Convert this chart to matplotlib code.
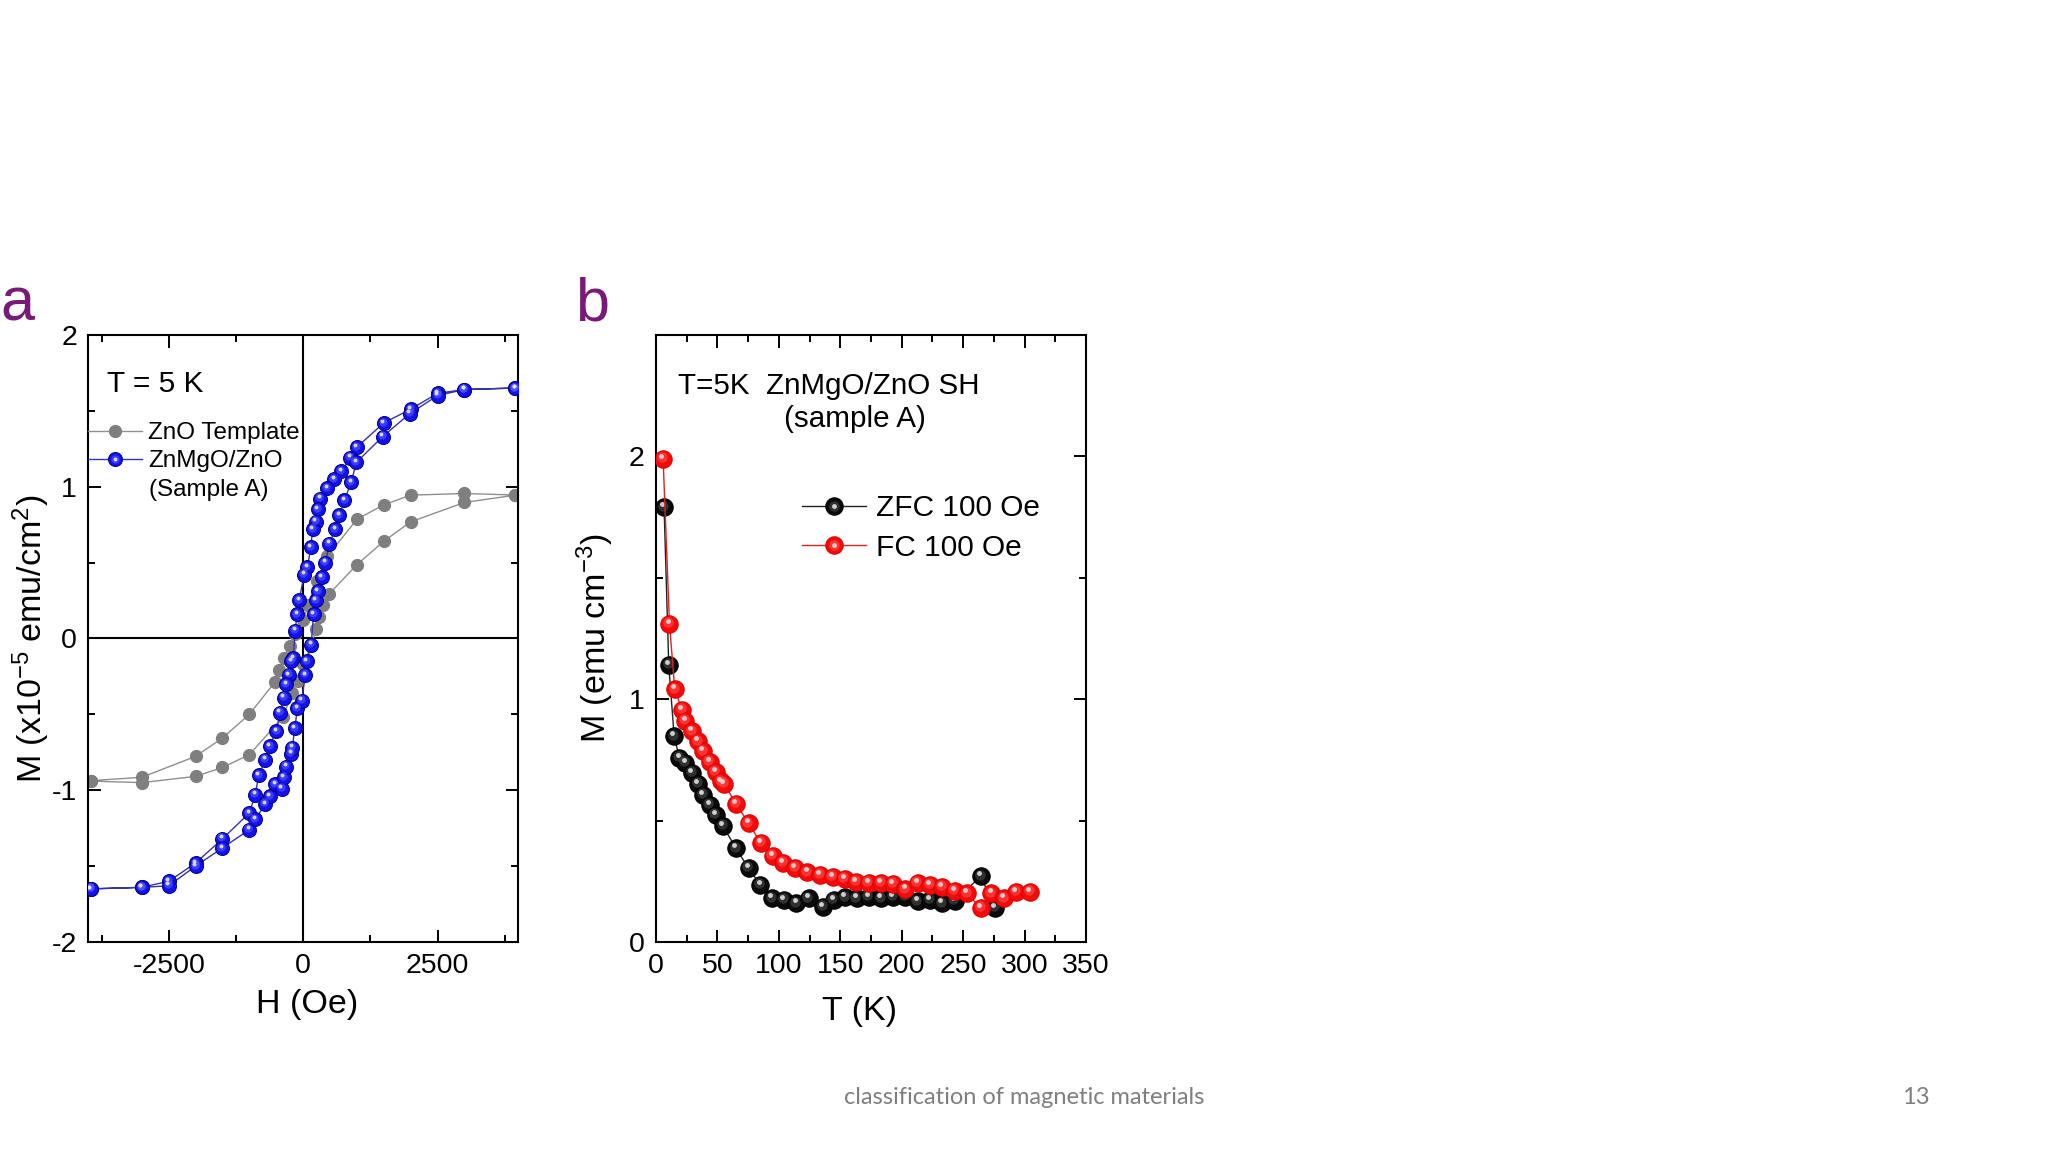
import matplotlib
matplotlib.use('Agg')
import matplotlib.pyplot as plt
import matplotlib.transforms as mtransforms
from matplotlib.ticker import MultipleLocator
from matplotlib.legend_handler import HandlerTuple

plt.rcParams['font.family'] = ['Liberation Sans', 'DejaVu Sans']
plt.rcParams['mathtext.default'] = 'regular'
plt.rcParams['axes.unicode_minus'] = False

# ---- panel a: M-H loops at 5 K ----
# ZnO template (grey)
gray_h_down = [3950, 3000, 2000, 1500, 1000, 450, 250, 100, 0, -150, -250, -350, -440, -530,
               -1000, -1500, -2000, -3000, -3950]
gray_m_down = [0.945, 0.955, 0.944, 0.88, 0.785, 0.54, 0.38, 0.22, 0.12, 0.03, -0.05, -0.13,
               -0.21, -0.29, -0.50, -0.656, -0.777, -0.915, -0.937]
gray_h_up = [-3950, -3000, -2000, -1500, -1000, -380, -200, -100, 0, 150, 240, 300, 370, 490,
             1000, 1500, 2000, 3000, 3950]
gray_m_up = [-0.94, -0.95, -0.909, -0.85, -0.766, -0.52, -0.36, -0.28, -0.17, -0.05, 0.064, 0.141,
             0.218, 0.295, 0.486, 0.64, 0.768, 0.896, 0.944]

# ZnMgO/ZnO sample A (blue)
blue_h_down = [3950, 3000, 2500, 2000, 1500, 1000, 880, 710, 580, 450, 320, 270, 240, 175, 145,
               80, 20, -75, -110, -150, -180, -220, -265, -310, -360, -430, -495, -625, -700,
               -825, -890, -1000, -1500, -2000, -2500, -3000, -3950]
blue_m_down = [1.65, 1.64, 1.615, 1.51, 1.42, 1.26, 1.19, 1.10, 1.05, 0.99, 0.92, 0.85, 0.77,
               0.72, 0.60, 0.47, 0.42, 0.25, 0.16, 0.05, -0.13, -0.15, -0.24, -0.30, -0.39,
               -0.49, -0.61, -0.71, -0.80, -0.90, -1.03, -1.15, -1.32, -1.48, -1.60, -1.64, -1.65]
blue_h_up = [-3950, -3000, -2500, -2000, -1500, -1000, -890, -700, -625, -515, -400, -360, -310,
             -220, -200, -155, -105, -25, 40, 70, 150, 195, 240, 270, 350, 415, 490, 600, 675,
             770, 895, 990, 1480, 1980, 2500, 3000, 3950]
blue_m_up = [-1.65, -1.64, -1.63, -1.50, -1.38, -1.26, -1.19, -1.09, -1.04, -0.96, -0.99, -0.915,
             -0.845, -0.76, -0.72, -0.59, -0.46, -0.41, -0.24, -0.15, -0.04, 0.16, 0.25, 0.31,
             0.405, 0.50, 0.625, 0.72, 0.81, 0.91, 1.03, 1.16, 1.33, 1.48, 1.60, 1.64, 1.65]

# ---- panel b: ZFC / FC at 100 Oe ----
t_zfc = [6.6, 10.4, 14.8, 19.1, 24, 29.2, 34.2, 38.5, 43.7, 48.6, 54.4, 65.1, 75.3, 85, 94.7,
         104.2, 114.3, 124.3, 135.9, 144.6, 153.8, 163.3, 173, 183, 193, 203, 213, 223, 233,
         243, 264.3, 276]
m_zfc = [1.79, 1.14, 0.847, 0.757, 0.737, 0.696, 0.65, 0.606, 0.565, 0.524, 0.478, 0.386, 0.304,
         0.235, 0.18, 0.173, 0.159, 0.18, 0.146, 0.173, 0.184, 0.18, 0.187, 0.18, 0.187, 0.187,
         0.167, 0.173, 0.159, 0.17, 0.27, 0.139]
t_fc = [5.8, 11, 15.3, 21.1, 24, 29.2, 34.2, 38.5, 43.7, 48.6, 53, 55.6, 65.1, 75.3, 85.4, 95,
        103.6, 113.2, 123.3, 133.5, 143.7, 153.5, 163, 173, 183, 193, 203, 213, 223, 233, 243,
        253, 264.3, 273, 283, 293, 304.3]
m_fc = [1.99, 1.31, 1.04, 0.957, 0.91, 0.867, 0.826, 0.785, 0.743, 0.702, 0.661, 0.65, 0.569,
        0.489, 0.407, 0.355, 0.327, 0.306, 0.287, 0.276, 0.267, 0.26, 0.249, 0.242, 0.242, 0.238,
        0.217, 0.243, 0.235, 0.228, 0.212, 0.2, 0.139, 0.2, 0.18, 0.207, 0.207]

fig = plt.figure(figsize=(20.48, 11.52), dpi=100)
fig.patch.set_facecolor('white')


def sphere(ax, x, y, color, edge, mid, hl, line, ms, z):
    """ball markers: base disc, lighter middle and a small highlight, up and to the left"""
    base, = ax.plot(x, y, '-o', color=line, lw=1.0, ms=ms, mfc=color, mec=edge, mew=0.8, zorder=z)
    tr1 = mtransforms.offset_copy(ax.transData, fig=fig, x=-ms * 0.07, y=ms * 0.1, units='points')
    glow, = ax.plot(x, y, 'o', ls='none', ms=ms * 0.6, mfc=mid, mec='none', alpha=0.6,
                    transform=tr1, zorder=z + 0.05)
    tr2 = mtransforms.offset_copy(ax.transData, fig=fig, x=-ms * 0.11, y=ms * 0.17, units='points')
    spot, = ax.plot(x, y, 'o', ls='none', ms=ms * 0.28, mfc=hl, mec='none', alpha=0.9,
                    transform=tr2, zorder=z + 0.1)
    return base, glow, spot


def style_axes(ax):
    for s in ax.spines.values():
        s.set_linewidth(1.5)
    ax.tick_params(which='both', direction='in', top=True, right=True, width=1.4,
                   labelsize=20.5, pad=8)
    ax.tick_params(which='major', length=9)
    ax.tick_params(which='minor', length=5)


# ---------------- panel a ----------------
axa = fig.add_axes([0.043, 0.1823, 0.21, 0.527])
axa.axhline(0, color='black', lw=1.5, zorder=1)
axa.axvline(0, color='black', lw=1.5, zorder=1)

gl, = axa.plot(gray_h_down + gray_h_up, gray_m_down + gray_m_up, '-o', color='#8f8f8f', lw=1.0,
               ms=8.5, mfc='#7f7f7f', mec='#7f7f7f', zorder=2)
bl = sphere(axa, blue_h_down + blue_h_up, blue_m_down + blue_m_up, '#1212f0', '#05058c',
            '#5a5aff', '#e6e6ff', '#3434a8', 10, 3)

axa.set_xlim(-4000, 4000)
axa.set_ylim(-2, 2)
axa.xaxis.set_major_locator(MultipleLocator(2500))
axa.xaxis.set_minor_locator(MultipleLocator(1250))
axa.yaxis.set_major_locator(MultipleLocator(1))
axa.yaxis.set_minor_locator(MultipleLocator(0.5))
style_axes(axa)
axa.set_xlabel('H (Oe)', fontsize=24.5, labelpad=7)
axa.xaxis.label.set_x(0.51)
axa.set_ylabel('M (x10$^{-5}$ emu/cm$^{2}$)', fontsize=24.5, labelpad=0)

axa.text(0.045, 0.906, 'T = 5 K', transform=axa.transAxes, fontsize=21.5, va='baseline')
axa.legend([gl, tuple(bl)], ['ZnO Template', 'ZnMgO/ZnO'],
           handler_map={tuple: HandlerTuple(ndivide=1)},
           loc='center left', bbox_to_anchor=(0.0, 0.815), frameon=False, fontsize=17.5,
           handlelength=2.2, handletextpad=0.27, borderpad=0, borderaxespad=0,
           labelspacing=0.25, numpoints=1)
axa.text(0.141, 0.745, '(Sample A)', transform=axa.transAxes, fontsize=17.5, va='center')

fig.text(0.0, 0.722, 'a', fontsize=44, color='#7a1a78', va='baseline')

# ---------------- panel b ----------------
axb = fig.add_axes([0.3203, 0.1823, 0.21, 0.527])
zl = sphere(axb, t_zfc, m_zfc, '#0a0a0a', '#000000', '#4a4a4a', '#e0e0e0', '#222222', 12.5, 3)
fl = sphere(axb, t_fc, m_fc, '#f50a0a', '#e00000', '#ff5050', '#ffd8d8', '#dd2222', 12.5, 4)

axb.set_xlim(0, 350)
axb.set_ylim(0, 2.5)
axb.xaxis.set_major_locator(MultipleLocator(50))
axb.xaxis.set_minor_locator(MultipleLocator(25))
axb.yaxis.set_major_locator(MultipleLocator(1))
axb.yaxis.set_minor_locator(MultipleLocator(0.5))
style_axes(axb)
axb.set_xlabel('T (K)', fontsize=24.5, labelpad=12)
axb.xaxis.label.set_x(0.474)
axb.set_ylabel('M (emu cm$^{-3}$)', fontsize=24.5, labelpad=9)

axb.text(0.051, 0.903, 'T=5K  ZnMgO/ZnO SH', transform=axb.transAxes, fontsize=21.3,
         va='baseline')
axb.text(0.462, 0.848, '(sample A)', transform=axb.transAxes, fontsize=21.3, va='baseline',
         ha='center')
axb.legend([tuple(zl), tuple(fl)], ['ZFC 100 Oe', 'FC 100 Oe'],
           handler_map={tuple: HandlerTuple(ndivide=1)},
           loc='center left', bbox_to_anchor=(0.34, 0.682), frameon=False, fontsize=21.5,
           handlelength=2.14, handletextpad=0.33, borderpad=0, borderaxespad=0,
           labelspacing=0.4, numpoints=1)

fig.text(0.281, 0.722, 'b', fontsize=44, color='#7a1a78', va='baseline')

# slide footer
fig.text(0.5, 0.047, 'classification of magnetic materials', fontsize=17, color='#7f7f7f',
         ha='center', va='center', family=['Lato', 'DejaVu Sans'])
fig.text(0.9355, 0.047, '13', fontsize=17, color='#7f7f7f', ha='center', va='center',
         family=['Lato', 'DejaVu Sans'])

fig.savefig('out.png', dpi=100, facecolor='white')
